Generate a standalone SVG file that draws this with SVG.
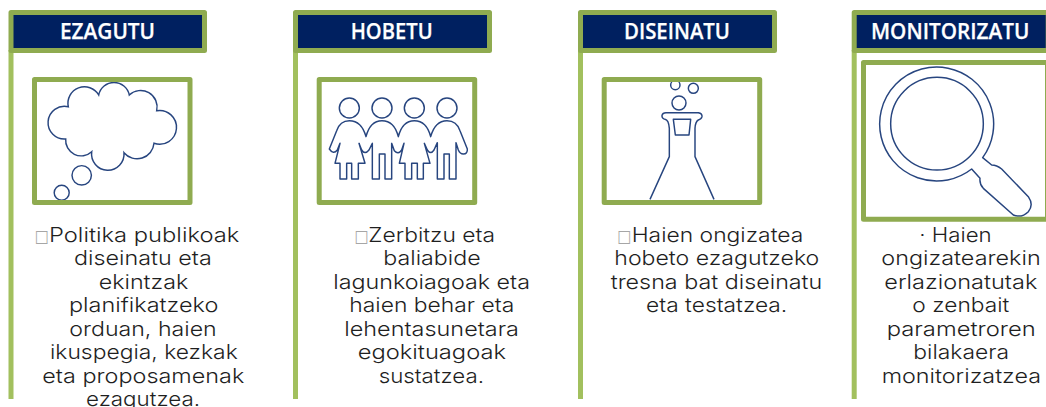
<svg xmlns="http://www.w3.org/2000/svg" width="1046" height="407" viewBox="0 0 1046 407">
<style>
.bar{fill:#a2c05e}
.hd{fill:#002060;stroke:#8fab50;stroke-width:5;stroke-linejoin:round}
.bx{fill:none;stroke:#8fab50;stroke-width:5;stroke-linejoin:round}
.bg{fill:#fff}
.ic{fill:none;stroke:#27457f;stroke-width:1.45}
.ics{fill:none;stroke:#27457f;stroke-width:4.4;stroke-linejoin:round}
.t{font-family:"Open Sans","Noto Sans",sans-serif;font-weight:600;font-size:21.5px;fill:#fff;stroke:#fff;stroke-width:.25}
.b{font-family:"Inter","Noto Sans",sans-serif;font-size:20px;font-weight:300;fill:#1f1f1f}
.tf{font-family:"DejaVu Sans",sans-serif;font-size:17px;font-weight:400;fill:#a6a6a6}
</style>
<g id="connectors"></g>
<g id="ezagutu">
<rect class="bar" x="8.5" y="50" width="5" height="349"/>
<rect class="hd" x="11" y="12.5" width="193.5" height="38"/>
<text class="t" x="60" y="39" textLength="95" lengthAdjust="spacingAndGlyphs">EZAGUTU</text>
<rect class="bg" x="34.5" y="79.5" width="155.5" height="123"/>
<path class="ic" d="M68.3 106.7A16.5 16.5 0 0 1 98.7 95A15.6 15.6 0 0 1 129.3 95A16.5 16.5 0 0 1 156.7 110.7A16.9 16.9 0 1 1 154 143.3A17 17 0 0 1 124 152.7A16.25 16.25 0 1 1 91.7 151.7A15.5 15.5 0 0 1 65.7 139A16.4 16.4 0 1 1 68.3 106.7Z"/>
<circle class="ic" cx="81.7" cy="175.3" r="9.7"/>
<circle class="ic" cx="61.7" cy="192.7" r="7.5"/>
<rect class="bx" x="34.5" y="79.5" width="155.5" height="123"/>
<text class="tf" x="34.4" y="241.5" textLength="14" lengthAdjust="spacingAndGlyphs">□</text>
<text class="b" x="49" y="241.7" textLength="190.3" lengthAdjust="spacingAndGlyphs">Politika publikoak</text>
<text class="b" x="74" y="265.2" textLength="137.7" lengthAdjust="spacingAndGlyphs">diseinatu eta</text>
<text class="b" x="98.7" y="288.7" textLength="89.6" lengthAdjust="spacingAndGlyphs">ekintzak</text>
<text class="b" x="69" y="312.2" textLength="149.3" lengthAdjust="spacingAndGlyphs">planifikatzeko</text>
<text class="b" x="69.3" y="335.7" textLength="147.4" lengthAdjust="spacingAndGlyphs">orduan, haien</text>
<text class="b" x="50" y="359.2" textLength="187.7" lengthAdjust="spacingAndGlyphs">ikuspegia, kezkak</text>
<text class="b" x="42.3" y="382.7" textLength="202" lengthAdjust="spacingAndGlyphs">eta proposamenak</text>
<text class="b" x="86" y="406.2" textLength="114" lengthAdjust="spacingAndGlyphs">ezagutzea.</text>
</g>
<g id="hobetu">
<rect class="bar" x="293" y="50" width="5" height="349"/>
<rect class="hd" x="295.5" y="12.5" width="194" height="38"/>
<text class="t" x="350.7" y="39" textLength="82" lengthAdjust="spacingAndGlyphs">HOBETU</text>
<rect class="bg" x="319.2" y="79.5" width="155.5" height="123"/>
<g transform="translate(285 0) scale(.33333)">
<circle class="ics" cx="193" cy="324" r="30"/><circle class="ics" cx="291" cy="324" r="30"/><circle class="ics" cx="388" cy="324" r="30"/><circle class="ics" cx="486" cy="324" r="30"/>
<path class="ics" d="M133 447L155 392Q165 362 193 362Q230 362 243 410Q255 362 291 362Q328 362 340 410Q352 362 388 362Q425 362 437 410Q450 362 486 362Q515 362 525 392L547 447Q548 462 535 462Q525 462 520 450L513 428V537H493V462H477V537H457V428L447 450Q437 465 427 450L418 430L435 490H415V537H397V490H380V537H360V490H343L357 430L350 450Q340 465 328 452L320 430V537H300V462H283V537H262V430L252 450Q240 465 230 450L222 430L240 490H220V537H200V490H185V537H165V490H150L165 430L157 450Q145 465 133 447Z"/>
</g>
<rect class="bx" x="319.2" y="79.5" width="155.5" height="123"/>
<text class="tf" x="354.2" y="241.5" textLength="14" lengthAdjust="spacingAndGlyphs">□</text>
<text class="b" x="368.3" y="241.7" textLength="126.7" lengthAdjust="spacingAndGlyphs">Zerbitzu eta</text>
<text class="b" x="383.3" y="265.2" textLength="97.4" lengthAdjust="spacingAndGlyphs">baliabide</text>
<text class="b" x="333.3" y="288.7" textLength="196.7" lengthAdjust="spacingAndGlyphs">lagunkoiagoak eta</text>
<text class="b" x="349.3" y="312.2" textLength="165" lengthAdjust="spacingAndGlyphs">haien behar eta</text>
<text class="b" x="344.3" y="335.7" textLength="174.7" lengthAdjust="spacingAndGlyphs">lehentasunetara</text>
<text class="b" x="357.7" y="359.2" textLength="148.3" lengthAdjust="spacingAndGlyphs">egokituagoak</text>
<text class="b" x="378.7" y="382.7" textLength="105.3" lengthAdjust="spacingAndGlyphs">sustatzea.</text>
</g>
<g id="diseinatu">
<rect class="bar" x="578" y="50" width="5" height="349"/>
<rect class="hd" x="580.5" y="12.5" width="194" height="38"/>
<text class="t" x="624" y="39" textLength="106" lengthAdjust="spacingAndGlyphs">DISEINATU</text>
<rect class="bg" x="604.2" y="79.5" width="155.5" height="123"/>
<g transform="translate(570 0) scale(.33333)">
<circle class="ics" cx="316" cy="255" r="14"/><circle class="ics" cx="370" cy="265" r="15"/><circle class="ics" cx="327" cy="309" r="21"/>
<path class="ics" d="M240 598L298 470V385Q296 360 285 358Q275 355 276 346Q278 338 288 338H385Q397 340 396 350Q394 358 385 360Q376 365 375 385V470L432 598"/>
<path class="ics" d="M310 358H362L357 405H316Z"/>
</g>
<rect class="bx" x="604.2" y="79.5" width="155.5" height="123"/>
<text class="tf" x="617" y="241.5" textLength="14" lengthAdjust="spacingAndGlyphs">□</text>
<text class="b" x="631.7" y="241.7" textLength="171.6" lengthAdjust="spacingAndGlyphs">Haien ongizatea</text>
<text class="b" x="614.3" y="265.2" textLength="205" lengthAdjust="spacingAndGlyphs">hobeto ezagutzeko</text>
<text class="b" x="610.7" y="288.7" textLength="211.6" lengthAdjust="spacingAndGlyphs">tresna bat diseinatu</text>
<text class="b" x="646" y="312.2" textLength="141.3" lengthAdjust="spacingAndGlyphs">eta testatzea.</text>
</g>
<g id="monitorizatu">
<rect class="bar" x="851.7" y="50" width="5" height="349"/>
<rect class="hd" x="854.2" y="12.5" width="194" height="38"/>
<text class="t" x="871" y="39" textLength="158.3" lengthAdjust="spacingAndGlyphs">MONITORIZATU</text>
<rect class="bg" x="863.5" y="62.5" width="184" height="156.7"/>
<g transform="translate(840 0) scale(.33333)">
<circle class="ics" cx="291" cy="371" r="139"/>
<path class="ics" d="M428 473A171 171 0 1 0 395 507L420 535Q418 552 430 565L520 645Q545 655 565 635Q582 615 565 590L485 507Q470 495 455 495Z"/>
</g>
<rect class="bx" x="863.5" y="62.5" width="184" height="156.7"/>
<text class="b" x="919.3" y="241.7" textLength="72.4" lengthAdjust="spacingAndGlyphs">· Haien</text>
<text class="b" x="881.3" y="265.2" textLength="159.4" lengthAdjust="spacingAndGlyphs">ongizatearekin</text>
<text class="b" x="884.3" y="288.7" textLength="153" lengthAdjust="spacingAndGlyphs">erlazionatutak</text>
<text class="b" x="912.3" y="312.2" textLength="97" lengthAdjust="spacingAndGlyphs">o zenbait</text>
<text class="b" x="886.7" y="335.7" textLength="149" lengthAdjust="spacingAndGlyphs">parametroren</text>
<text class="b" x="913.3" y="359.2" textLength="95.7" lengthAdjust="spacingAndGlyphs">bilakaera</text>
<text class="b" x="881.7" y="382.7" textLength="159.3" lengthAdjust="spacingAndGlyphs">monitorizatzea</text>
</g>
</svg>
